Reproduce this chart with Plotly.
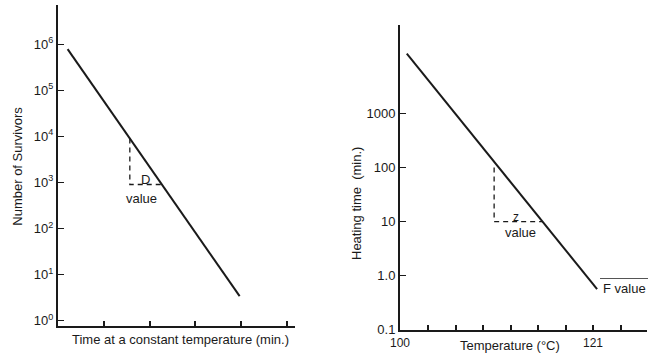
import plotly.graph_objects as go

W, H = 658, 362

# ---- Left panel data (survivor curve) ----
surv_time = [0.21, 3.97]            # min
surv_count = [7.8e5, 3.4]           # survivors
d_dash_time = [1.57, 1.57, 2.27]
d_dash_count = [9000, 900, 900]
left_ytick_vals = [1, 10, 100, 1000, 1e4, 1e5, 1e6]
left_ytick_text = ["10<sup>0</sup>", "10<sup>1</sup>", "10<sup>2</sup>", "10<sup>3</sup>",
                   "10<sup>4</sup>", "10<sup>5</sup>", "10<sup>6</sup>"]
left_xtick_vals = [1, 2, 3, 4, 5]

# ---- Right panel data (thermal death time curve) ----
tdt_temp = [100.7, 121.4]           # °C
tdt_time = [12900, 0.56]            # min
z_dash_temp = [110.2, 110.2, 115.5]
z_dash_time = [100, 10, 10]
right_ytick_vals = [0.1, 1, 10, 100, 1000]
right_ytick_text = ["0.1", "1.0", "10", "100", "1000"]
right_xtick_vals = [103, 106, 109, 112, 115, 118, 121, 124]
right_xlabel_vals = [100, 121]
right_xlabel_text = ["100", "121"]

FONT = "Liberation Sans, Arial, sans-serif"
INK = "#1a1a1a"

def px_x(p):
    return p / W

def px_y(p):
    return 1 - p / H

fig = go.Figure()

fig.add_trace(go.Scatter(x=surv_time, y=surv_count, mode="lines",
                         line=dict(color=INK, width=2), xaxis="x", yaxis="y",
                         showlegend=False, hoverinfo="skip"))
fig.add_trace(go.Scatter(x=d_dash_time, y=d_dash_count, mode="lines",
                         line=dict(color=INK, width=1.3, dash="5px,4px"), xaxis="x", yaxis="y",
                         showlegend=False, hoverinfo="skip"))
fig.add_trace(go.Scatter(x=tdt_temp, y=tdt_time, mode="lines",
                         line=dict(color=INK, width=2), xaxis="x2", yaxis="y2",
                         showlegend=False, hoverinfo="skip"))
fig.add_trace(go.Scatter(x=z_dash_temp, y=z_dash_time, mode="lines",
                         line=dict(color=INK, width=1.3, dash="5px,4px"), xaxis="x2", yaxis="y2",
                         showlegend=False, hoverinfo="skip"))

axis_common = dict(showgrid=False, zeroline=False, showline=True, linecolor=INK,
                   linewidth=2, tickcolor=INK, tickfont=dict(family=FONT, size=13, color=INK))

fig.update_layout(
    width=W, height=H,
    margin=dict(l=0, r=0, t=0, b=0),
    paper_bgcolor="white", plot_bgcolor="white",
    font=dict(family=FONT, color=INK),
    xaxis=dict(domain=[px_x(58), px_x(295)], range=[0, 5.18], anchor="y",
               ticks="inside", ticklen=5, tickwidth=1.5, tickvals=left_xtick_vals,
               showticklabels=False, **axis_common),
    yaxis=dict(domain=[px_y(332), px_y(5)], type="log", range=[-0.106, 6.85], anchor="x",
               ticks="inside", ticklen=6, tickwidth=1.2, tickvals=left_ytick_vals,
               ticktext=left_ytick_text, **axis_common),
    xaxis2=dict(domain=[px_x(400), px_x(647)], range=[99.96, 126.83], anchor="y2",
                ticks="inside", ticklen=5, tickwidth=1.5, tickvals=right_xtick_vals,
                showticklabels=False, **axis_common),
    yaxis2=dict(domain=[px_y(337), px_y(25)], type="log", range=[-1.018, 4.65], anchor="x2",
                ticks="inside", ticklen=6, tickwidth=1.2, tickvals=right_ytick_vals,
                ticktext=right_ytick_text, **axis_common),
)

def ann(text, x, y, size=13, angle=0, xref="paper"):
    fig.add_annotation(text=text, x=px_x(x) if xref == "paper" else x, y=px_y(y),
                       xref=xref, yref="paper",
                       showarrow=False, textangle=angle,
                       font=dict(family=FONT, size=size, color=INK),
                       xanchor="center", yanchor="middle")

ann("Time at a constant temperature (min.)", 180, 346)
ann("Number of Survivors", 18, 170, angle=-90)
ann("D", 145, 183)
ann("value", 141, 202)
ann("Temperature (°C)", 510, 352)
ann("Heating time  (min.)", 357, 207, angle=-90)
ann("z", 516, 221, size=12)
ann("value", 520, 237)
ann("F value", 624, 294)
for v, t in zip(right_xlabel_vals, right_xlabel_text):
    ann(t, v, 350, size=12, xref="x2")

fig.add_shape(type="line", xref="paper", yref="paper",
              x0=px_x(600), x1=px_x(648), y0=px_y(284), y1=px_y(284),
              line=dict(color="#555", width=1))

fig.write_html("out.html", config={"displayModeBar": False},
               post_script="document.body.style.margin='0px';")
